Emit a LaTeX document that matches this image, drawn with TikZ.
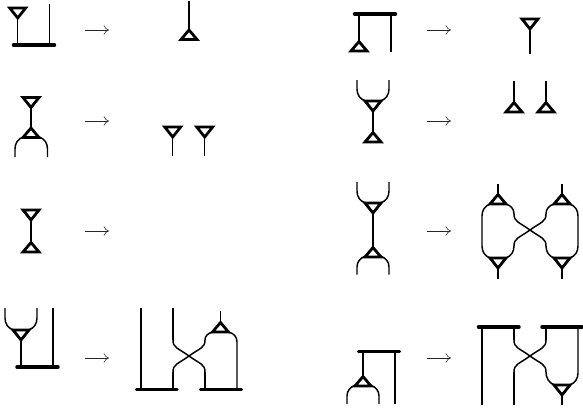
\documentclass[tikz,border=0pt]{standalone}
\usetikzlibrary{arrows.meta}
\tikzset{
  wire/.style={line width=1.1pt,line cap=butt},
  barline/.style={line width=2.6pt,line cap=round},
  tri/.style={line width=2.1pt,line join=miter,miter limit=3},
  mapsto arrow/.style={line width=0.4pt,-{To[length=4pt,width=7pt]},black!85},
}
% triangle pointing down: apex x, top y
\newcommand{\tdown}[2]{\draw[tri] (#1-8,#2) -- (#1+8,#2) -- (#1,#2+10) -- cycle;}
% triangle pointing up: apex x, base y
\newcommand{\tup}[2]{\draw[tri] (#1-8,#2) -- (#1+8,#2) -- (#1,#2-9.5) -- cycle;}
\newcommand{\mapar}[2]{\draw[mapsto arrow] (#1,#2) -- (#1+24,#2);}
% crossing between x=#1 and x=#2, from y=#3 to y=#4
\newcommand{\crossing}[4]{%
  \draw[wire] (#1,#3) .. controls (#1,#3+8) and (#1+5,#3+8) .. ({(#1+#2)/2},{(#3+#4)/2}) .. controls (#2-5,#4-8) and (#2,#4-8) .. (#2,#4);
  \draw[wire] (#2,#3) .. controls (#2,#3+8) and (#2-5,#3+8) .. ({(#1+#2)/2},{(#3+#4)/2}) .. controls (#1+5,#4-8) and (#1,#4-8) .. (#1,#4);}
\begin{document}
\begin{tikzpicture}[x=0.75pt,y=-0.75pt]
\useasboundingbox (0,0) rectangle (583,412);
% 1
\tdown{17.7}{8}
\draw[wire] (17.7,18) -- (17.7,45);
\draw[wire] (49.5,4) -- (49.5,45);
\draw[barline] (13.5,45) -- (54.5,45);
\mapar{85}{30}
\draw[wire] (189,1) -- (189,30);
\tup{189}{39.5}
% 2
\tdown{31}{97.5}
\draw[wire] (31,107) -- (31,128);
\tup{31}{137.5}
\draw[wire] (15,157) -- (15,149) .. controls (15,143) and (18,139) .. (23,137);
\draw[wire] (47.5,157) -- (47.5,149) .. controls (47.5,143) and (44.5,139) .. (39.5,137);
\mapar{85}{121}
\tdown{172.7}{127}
\draw[wire] (172.7,137) -- (172.7,155.5);
\tdown{204.7}{127}
\draw[wire] (204.7,137) -- (204.7,155.5);
% 3
\tdown{31}{210}
\draw[wire] (31,220) -- (31,242);
\tup{31}{252}
\mapar{85}{231}
% 4
\draw[wire] (5,308) -- (5,318) .. controls (5,324) and (8,328) .. (13.5,330);
\draw[wire] (37,308) -- (37,318) .. controls (37,324) and (34,328) .. (28.5,330);
\tdown{21}{330}
\draw[wire] (21,340) -- (21,367);
\draw[wire] (53,308) -- (53,367);
\draw[barline] (17,367) -- (58,367);
\mapar{85}{358}
\draw[wire] (141,308) -- (141,389.5);
\crossing{173}{205}{340}{372}
\draw[wire] (173,308) -- (173,340);
\draw[wire] (173,372) -- (173,389.5);
\draw[wire] (205,372) -- (205,389.5);
\draw[wire] (205,340) .. controls (205,336) and (208,333) .. (213,332);
\draw[wire] (237,389.5) -- (237,342) .. controls (237,337) and (234,333) .. (228,332);
\draw[wire] (220.5,311) -- (220.5,322);
\tup{220.5}{332}
\draw[barline] (136.5,389.5) -- (177,389.5);
\draw[barline] (200.5,389.5) -- (241.5,389.5);
% 5
\draw[barline] (354.5,14) -- (395.5,14);
\draw[wire] (359,14) -- (359,41);
\tup{359}{51}
\draw[wire] (391,14) -- (391,51.5);
\mapar{427}{30}
\tdown{530}{19}
\draw[wire] (530,29) -- (530,53.5);
% 6
\draw[wire] (357,80) -- (357,89) .. controls (357,95) and (360,99) .. (365.5,101);
\draw[wire] (389,80) -- (389,89) .. controls (389,95) and (386,99) .. (380.5,101);
\tdown{373}{101}
\draw[wire] (373,111) -- (373,132);
\tup{373}{142}
\mapar{427}{121}
\draw[wire] (514,81) -- (514,102);
\tup{514}{112}
\draw[wire] (546,81) -- (546,102);
\tup{546}{112}
% 7
\draw[wire] (357,182) -- (357,191) .. controls (357,197) and (360,201) .. (365.5,203);
\draw[wire] (389,182) -- (389,191) .. controls (389,197) and (386,201) .. (380.5,203);
\tdown{373}{203}
\draw[wire] (373,213) -- (373,247);
\tup{373}{257}
\draw[wire] (357,274.5) -- (357,267) .. controls (357,262) and (360,258) .. (365.5,256);
\draw[wire] (389,274.5) -- (389,267) .. controls (389,262) and (386,258) .. (380.5,256);
\mapar{427}{231}
\draw[wire] (498,184) -- (498,194);
\tup{498}{204}
\draw[wire] (562,184) -- (562,194);
\tup{562}{204}
\tdown{498}{258}
\draw[wire] (498,268) -- (498,278.5);
\tdown{562}{258}
\draw[wire] (562,268) -- (562,278.5);
\draw[wire] (490,204) .. controls (485,206) and (482,210) .. (482,216) -- (482,246) .. controls (482,252) and (485,256) .. (490,258);
\draw[wire] (570,204) .. controls (575,206) and (578,210) .. (578,216) -- (578,246) .. controls (578,252) and (575,256) .. (570,258);
\crossing{514}{546}{214}{246}
\draw[wire] (506,204) .. controls (511,205.5) and (514,209) .. (514,214);
\draw[wire] (554,204) .. controls (549,205.5) and (546,209) .. (546,214);
\draw[wire] (514,246) .. controls (514,252) and (511,256) .. (506,258);
\draw[wire] (546,246) .. controls (546,252) and (549,256) .. (554,258);
% 8
\draw[barline] (358.5,351.5) -- (399.5,351.5);
\draw[wire] (363,351.5) -- (363,376);
\tup{363}{386}
\draw[wire] (395,351.5) -- (395,404);
\draw[wire] (347,404) -- (347,396) .. controls (347,391) and (350,387) .. (355.5,385);
\draw[wire] (379,404) -- (379,396) .. controls (379,391) and (376,387) .. (370.5,385);
\mapar{427}{358}
\draw[barline] (478.5,327) -- (519,327);
\draw[barline] (542,327) -- (582,327);
\draw[wire] (482,327) -- (482,404.5);
\draw[wire] (514,327) -- (514,340);
\draw[wire] (546,327) -- (546,340);
\crossing{514}{546}{340}{372}
\draw[wire] (514,372) -- (514,404.5);
\draw[wire] (546,372) .. controls (546,378) and (549,383) .. (554.5,385);
\draw[wire] (578,327) -- (578,373) .. controls (578,379) and (575,383) .. (569.5,385);
\tdown{562}{385}
\draw[wire] (562,395) -- (562,404.5);
\end{tikzpicture}
\end{document}
